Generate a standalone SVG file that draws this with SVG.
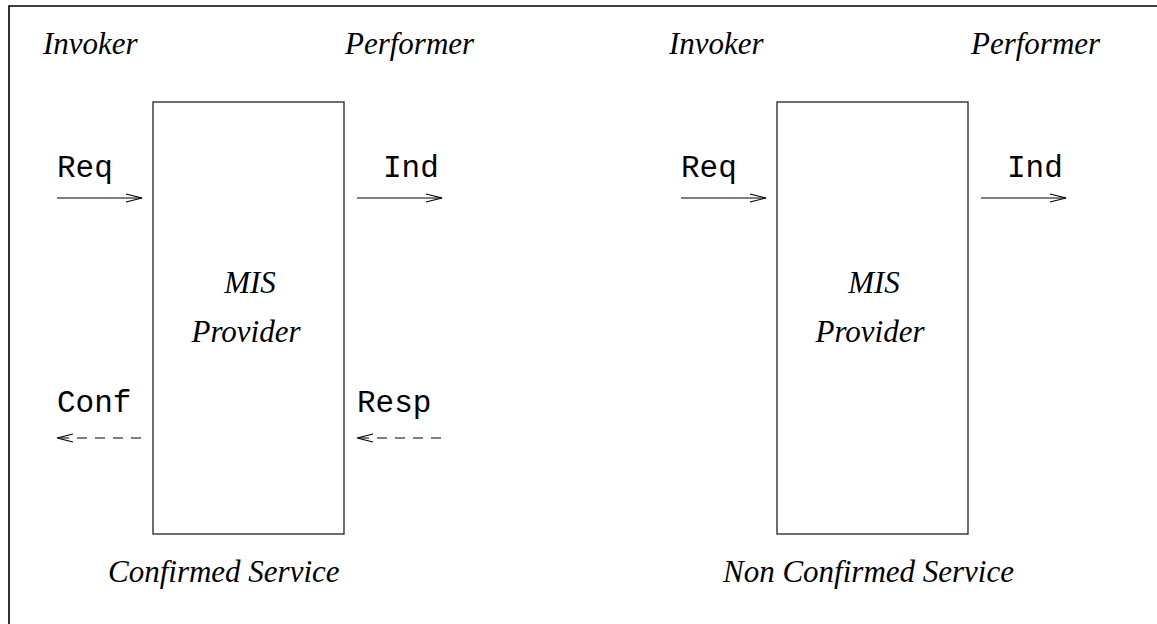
<svg xmlns="http://www.w3.org/2000/svg" width="1157" height="624" viewBox="0 0 1157 624">
<style>
.it{font-family:"Liberation Serif","Times New Roman",serif;font-style:italic;font-size:31px;fill:#000}
.mo{font-family:"Liberation Mono","Courier New",monospace;font-size:31px;fill:#000}
.box{fill:#fff;stroke:#222;stroke-width:1.3}
.ln{stroke:#000;stroke-width:1.2;fill:none}
.dash{stroke:#000;stroke-width:1.2;fill:none;stroke-dasharray:10 8}
</style>
<rect width="1157" height="624" fill="#fff"/>
<g id="frame">
<polyline points="9,624 9,6 1157,6" fill="none" stroke="#000" stroke-width="1.6"/>
</g>
<g id="labels-left">
<text class="it" x="43" y="54">Invoker</text>
<text class="it" x="345" y="54">Performer</text>
<text class="mo" x="57" y="177">Req</text>
<text class="mo" x="383" y="177">Ind</text>
<text class="mo" x="57" y="412">Conf</text>
<text class="mo" x="357" y="412">Resp</text>
<text class="it" x="108" y="582">Confirmed Service</text>
</g>
<g id="node-confirmed">
<rect class="box" x="153" y="102" width="191" height="432"/>
<text class="it" x="250" y="293" text-anchor="middle">MIS</text>
<text class="it" x="246" y="342" text-anchor="middle">Provider</text>
</g>
<g id="labels-right">
<text class="it" x="669" y="54">Invoker</text>
<text class="it" x="971" y="54">Performer</text>
<text class="mo" x="681" y="177">Req</text>
<text class="mo" x="1007" y="177">Ind</text>
<text class="it" x="723" y="582">Non Confirmed Service</text>
</g>
<g id="node-nonconfirmed">
<rect class="box" x="777" y="102" width="191" height="432"/>
<text class="it" x="874" y="293" text-anchor="middle">MIS</text>
<text class="it" x="870" y="342" text-anchor="middle">Provider</text>
</g>
<g id="connectors">
<line class="ln" x1="57" y1="198" x2="142" y2="198"/>
<polyline class="ln" points="126,194 142,198 126,202"/>
<line class="ln" x1="357" y1="198" x2="442" y2="198"/>
<polyline class="ln" points="426,194 442,198 426,202"/>
<line class="dash" x1="141" y1="438" x2="57" y2="438"/>
<polyline class="ln" points="73,434 57,438 73,442"/>
<line class="dash" x1="441" y1="438" x2="357" y2="438"/>
<polyline class="ln" points="373,434 357,438 373,442"/>
<line class="ln" x1="681" y1="198" x2="766" y2="198"/>
<polyline class="ln" points="750,194 766,198 750,202"/>
<line class="ln" x1="981" y1="198" x2="1066" y2="198"/>
<polyline class="ln" points="1050,194 1066,198 1050,202"/>
</g>
</svg>
